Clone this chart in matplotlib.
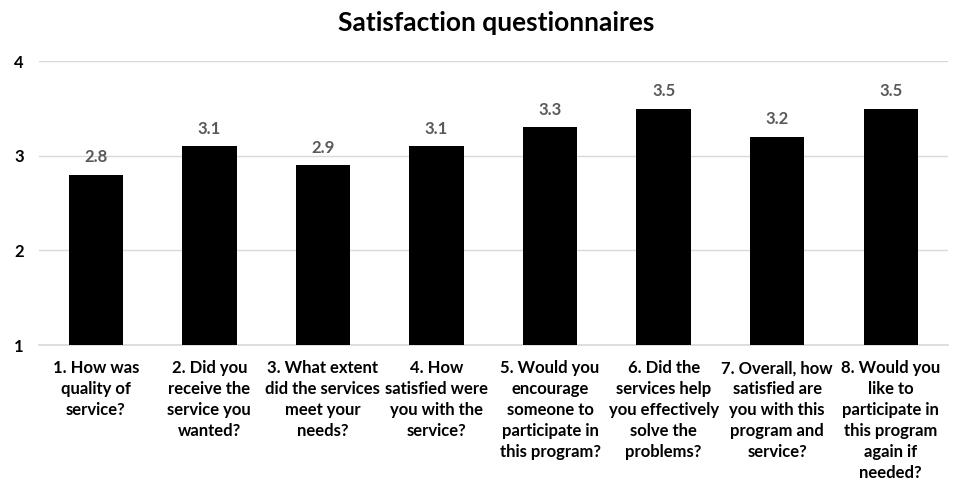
import matplotlib
matplotlib.use("Agg")
import matplotlib.pyplot as plt

plt.rcParams['font.family'] = ['Lato', 'DejaVu Sans']

questions = [
    "1. How was\nquality of\nservice?",
    "2. Did you\nreceive the\nservice you\nwanted?",
    "3. What extent\ndid the services\nmeet your\nneeds?",
    "4. How\nsatisfied were\nyou with the\nservice?",
    "5. Would you\nencourage\nsomeone to\nparticipate in\nthis program?",
    "6. Did the\nservices help\nyou effectively\nsolve the\nproblems?",
    "7. Overall, how\nsatisfied are\nyou with this\nprogram and\nservice?",
    "8. Would you\nlike to\nparticipate in\nthis program\nagain if\nneeded?",
]
scores = [2.8, 3.1, 2.9, 3.1, 3.3, 3.5, 3.2, 3.5]
y_ticks = [1, 2, 3, 4]

fig = plt.figure(figsize=(9.63, 4.82), dpi=100)
ax = fig.add_axes([0.0405, 0.284, 0.9435, 0.589])

x = list(range(len(scores)))
base = 1
bars = ax.bar(x, [s - base for s in scores], bottom=base, width=0.48,
              color='black', zorder=3)

for xi, s in zip(x, scores):
    ax.text(xi, s + 0.1, f"{s:.1f}", ha='center', va='bottom',
            fontsize=12, fontweight='bold', color='#595959')

ax.set_xlim(-0.5, len(scores) - 0.5)
ax.set_ylim(1, 4)
ax.set_yticks(y_ticks)
ax.set_yticklabels([str(t) for t in y_ticks], fontsize=12, fontweight='bold')
ax.set_xticks(x)
ax.set_xticklabels(questions, fontsize=12, fontweight='bold', linespacing=1.38,
                   va='top')
ax.tick_params(axis='both', length=0)
ax.tick_params(axis='x', pad=11)
ax.tick_params(axis='y', pad=18)
for lbl in ax.get_yticklabels():
    lbl.set_horizontalalignment('left')

ax.yaxis.grid(True, color='#d9d9d9', linewidth=1, zorder=0)
for sp in ['top', 'right', 'left']:
    ax.spines[sp].set_visible(False)
ax.spines['bottom'].set_color('#d9d9d9')
ax.spines['bottom'].set_linewidth(1.2)

fig.text(0.515, 0.952, "Satisfaction questionnaires", ha='center', va='center',
         fontsize=19, fontweight='bold')

fig.savefig("out.png", dpi=100)
